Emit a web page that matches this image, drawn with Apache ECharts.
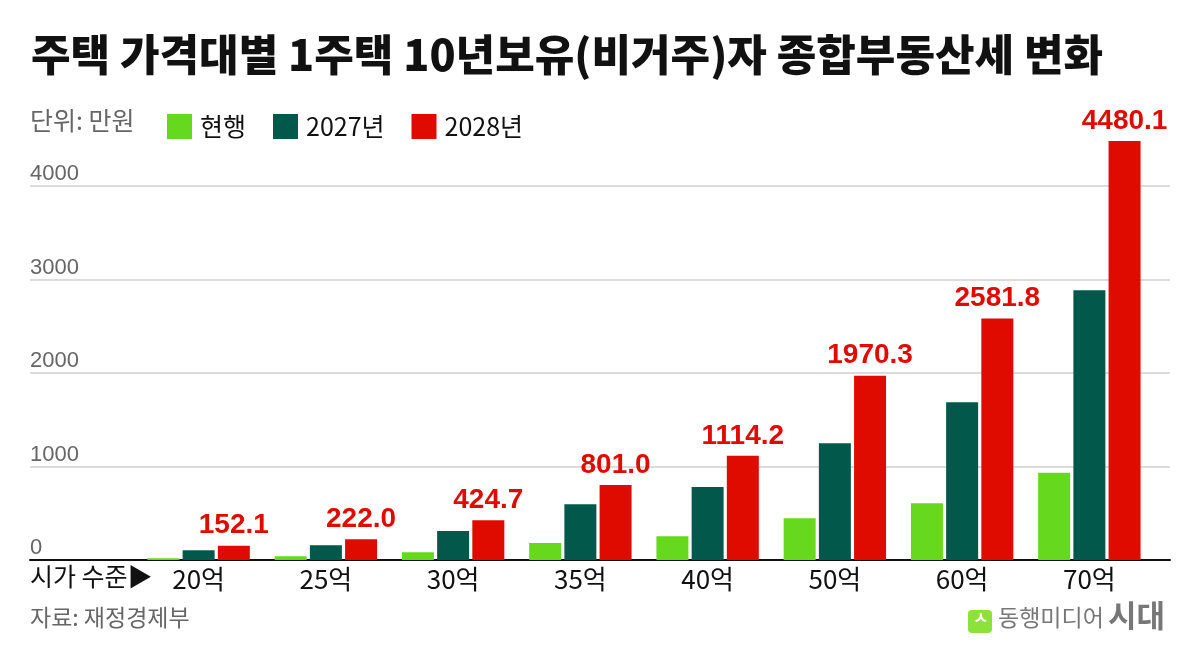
<!DOCTYPE html>
<html><head><meta charset="utf-8">
<script src="https://cdn.jsdelivr.net/npm/echarts@6/dist/echarts.min.js"></script>
<style>html,body{margin:0;padding:0;background:#fff}#c{width:1200px;height:660px}</style>
</head><body><div id="c"></div>
<script>
const categories = ['20억','25억','30억','35억','40억','50억','60억','70억'];
const current = [20, 40, 82, 182, 254, 447, 608, 932];
const y2027 = [104, 157, 311, 597, 782, 1250, 1686, 2886];
const y2028 = [152.1, 222.0, 424.7, 801.0, 1114.2, 1970.3, 2581.8, 4480.1];
const yTicks = [0, 1000, 2000, 3000, 4000];
const seriesNames = ['현행', '2027년', '2028년'];

const KR = '"Noto Sans CJK KR", "Noto Sans", sans-serif';
const NUM = '"Liberation Sans", Arial, sans-serif';
const chart = echarts.init(document.getElementById('c'));
const barBase = { type: 'bar', barWidth: 32, barGap: '10%', xAxisIndex: 0, yAxisIndex: 0, clip: false };
chart.setOption({
  animation: false,
  backgroundColor: '#fff',
  title: {
    text: '주택 가격대별 1주택 10년보유(비거주)자 종합부동산세 변화',
    left: 26, top: 28,
    textStyle: { fontFamily: KR, fontWeight: 900, fontSize: 43, color: '#111', letterSpacing: -1.5 }
  },
  legend: {
    left: 162, top: 109, itemWidth: 25, itemHeight: 25, itemGap: 27, icon: 'rect',
    data: seriesNames,
    textStyle: { fontFamily: KR, fontSize: 25, color: '#111', padding: [0,0,0,3] }
  },
  grid: [
    { left: 135, right: 47, top: 186, bottom: 100 },
    { left: 30, right: 30, top: 186, bottom: 100 }
  ],
  xAxis: [
    { type: 'category', gridIndex: 0, data: categories, axisLine: { show: false }, axisTick: { show: false },
      axisLabel: { fontFamily: KR, fontSize: 26, color: '#111', margin: 6 } },
    { type: 'value', gridIndex: 1, min: 0, max: 1, axisLabel: { show: false }, axisTick: { show: false },
      splitLine: { show: false }, axisLine: { show: true, lineStyle: { color: '#111', width: 2 } } }
  ],
  yAxis: [
    { type: 'value', gridIndex: 0, min: 0, max: 4000, interval: 1000, show: false },
    { type: 'value', gridIndex: 1, min: yTicks[0], max: yTicks[yTicks.length-1], interval: 1000,
      axisLine: { show: false }, axisTick: { show: false },
      splitLine: { lineStyle: { color: '#cfcfcf', width: 1.5 } },
      axisLabel: { inside: true, margin: 0, verticalAlign: 'bottom', padding: [0,0,1,0],
        fontFamily: NUM, fontSize: 22, color: '#666', formatter: v => String(v) } }
  ],
  series: [
    Object.assign({}, barBase, { name: seriesNames[0], data: current, itemStyle: { color: '#66d91e' } }),
    Object.assign({}, barBase, { name: seriesNames[1], data: y2027, itemStyle: { color: '#02584a' } }),
    Object.assign({}, barBase, { name: seriesNames[2], data: y2028, itemStyle: { color: '#e00b00' },
      label: { show: true, position: 'top', distance: 6, color: '#e00b00', fontFamily: NUM, fontWeight: 'bold',
        fontSize: 28, letterSpacing: -1, formatter: p => p.value.toFixed(1) } })
  ],
  graphic: [
    { type: 'text', left: 30, top: 108, style: { text: '단위: 만원', fontFamily: KR, fontSize: 25, fill: '#666' } },
    { type: 'text', left: 30, top: 564, style: { text: '시가 수준▶', fontFamily: KR, fontSize: 25, fill: '#111' } },
    { type: 'text', left: 30, top: 606, style: { text: '자료: 재정경제부', fontFamily: KR, fontSize: 23, fill: '#666' } },
    { type: 'rect', left: 968, top: 610, shape: { width: 24, height: 23, r: 4 }, style: { fill: '#8ee03a' } },
    { type: 'text', left: 973, top: 609, style: { text: 'ㅅ', fontFamily: KR, fontSize: 17, fontWeight: 'bold', fill: '#fff' } },
    { type: 'text', left: 998, top: 606, style: { text: '동행미디어', fontFamily: KR, fontSize: 23, fill: '#777' } },
    { type: 'text', left: 1108, top: 600, style: { text: '시대', fontFamily: KR, fontSize: 31, fontWeight: 'bold', fill: '#777', letterSpacing: 4 } }
  ]
});
</script></body></html>
